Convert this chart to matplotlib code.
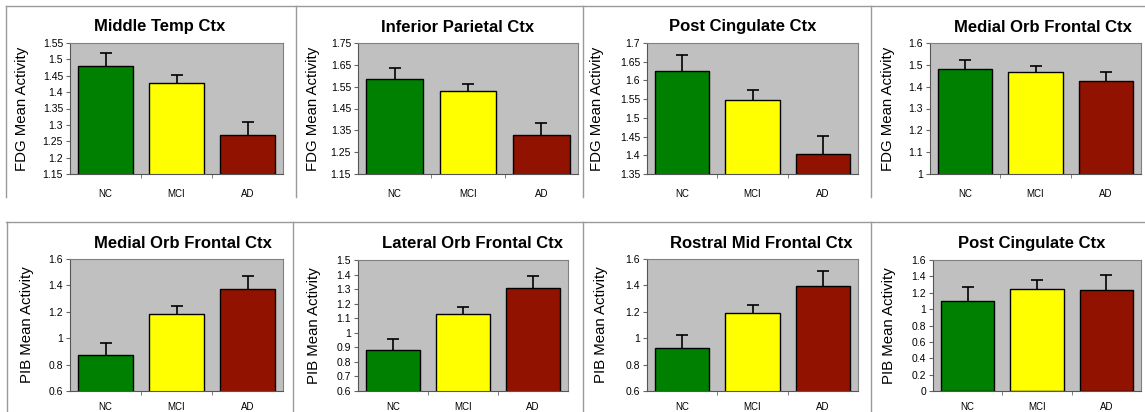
import matplotlib
matplotlib.use('Agg')
import matplotlib.pyplot as plt
import numpy as np
from matplotlib.lines import Line2D
from matplotlib.ticker import FormatStrFormatter

plt.rcParams['font.family'] = ['Liberation Sans', 'DejaVu Sans']

groups = ['NC', 'MCI', 'AD']
bar_colors = ['#008000', '#FFFF00', '#921200']

# FDG (top row)
titles_fdg = ['Middle Temp Ctx', 'Inferior Parietal Ctx', 'Post Cingulate Ctx', 'Medial Orb Frontal Ctx']
fdg_means = [
    [1.480, 1.428, 1.270],
    [1.585, 1.530, 1.329],
    [1.625, 1.547, 1.404],
    [1.480, 1.469, 1.425],
]
fdg_err = [
    [0.038, 0.023, 0.040],
    [0.050, 0.032, 0.054],
    [0.044, 0.028, 0.048],
    [0.044, 0.026, 0.044],
]
fdg_ylims = [(1.15, 1.55), (1.15, 1.75), (1.35, 1.70), (1.0, 1.6)]
fdg_steps = [0.05, 0.1, 0.05, 0.1]

# PIB (bottom row)
titles_pib = ['Medial Orb Frontal Ctx', 'Lateral Orb Frontal Ctx', 'Rostral Mid Frontal Ctx', 'Post Cingulate Ctx']
pib_means = [
    [0.871, 1.187, 1.372],
    [0.882, 1.127, 1.308],
    [0.923, 1.188, 1.399],
    [1.103, 1.250, 1.230],
]
pib_err = [
    [0.091, 0.059, 0.096],
    [0.078, 0.052, 0.084],
    [0.102, 0.063, 0.107],
    [0.171, 0.106, 0.183],
]
pib_ylims = [(0.6, 1.6), (0.6, 1.5), (0.6, 1.6), (0.0, 1.6)]
pib_steps = [0.2, 0.1, 0.2, 0.2]

W, H = 1145, 412
fig = plt.figure(figsize=(W / 100, H / 100), dpi=100)


def px_axes(l, t, r, b):
    return fig.add_axes([l / W, 1 - b / H, (r - l) / W, (b - t) / H])


def draw_panel(ax, means, errs, ylim, step, ylabel, label_x, xpad):
    x = np.arange(len(groups))
    ax.set_facecolor('#C0C0C0')
    # symmetric error bars drawn under the bars, so only the upper half shows
    ax.errorbar(x, means, yerr=errs, fmt='none', ecolor='black',
                elinewidth=1.2, capsize=4, capthick=1.2, zorder=1)
    ax.bar(x, means, width=0.77, color=bar_colors, edgecolor='black', linewidth=1, zorder=2)
    ax.set_xlim(-0.5, 2.5)
    ax.set_ylim(*ylim)
    ax.set_yticks(np.arange(ylim[0], ylim[1] + step / 2, step))
    ax.yaxis.set_major_formatter(FormatStrFormatter('%g'))
    ax.set_xticks(x)
    ax.set_xticklabels(groups)
    ax.set_xticks([0.5, 1.5], minor=True)
    ax.tick_params(axis='x', which='major', length=0, pad=xpad, labelsize=7)
    ax.tick_params(axis='x', which='minor', length=3, direction='out', color='#666666')
    ax.tick_params(axis='y', length=3, direction='out', color='#666666', labelsize=7.5, pad=2)
    for s in ['top', 'right']:
        ax.spines[s].set_color('#808080')
    ax.spines['left'].set_color('#555555')
    ax.spines['bottom'].set_color('#555555')
    ax.set_ylabel(ylabel, fontsize=10.8, va='center')
    l, r = ax.get_position().x0 * W, ax.get_position().x1 * W
    ax.yaxis.set_label_coords((label_x - l) / (r - l), 0.5)


top_boxes = [(70, 43, 283, 174), (358, 43, 578, 174), (647, 43, 858, 174), (930, 43, 1141, 174)]
top_title_x = [160, 458, 743, 1043]
top_label_x = [22, 313, 597, 888]
for i in range(4):
    ax = px_axes(*top_boxes[i])
    draw_panel(ax, fdg_means[i], fdg_err[i], fdg_ylims[i], fdg_steps[i],
               'FDG Mean Activity', top_label_x[i], 11)
    fig.text(top_title_x[i] / W, 1 - 27 / H, titles_fdg[i], ha='center', va='center',
             fontsize=12, fontweight='bold')

bot_boxes = [(70, 259, 283, 391), (358, 260, 568, 391), (647, 259, 858, 391), (933, 260, 1141, 391)]
bot_title_x = [183, 472, 761, 1032]
bot_label_x = [27, 314, 601, 889]
for i in range(4):
    ax = px_axes(*bot_boxes[i])
    draw_panel(ax, pib_means[i], pib_err[i], pib_ylims[i], pib_steps[i],
               'PIB Mean Activity', bot_label_x[i], 8)
    fig.text(bot_title_x[i] / W, 1 - 244 / H, titles_pib[i], ha='center', va='center',
             fontsize=12, fontweight='bold')


def sep(x0, y0, x1, y1):
    fig.add_artist(Line2D([x0 / W, x1 / W], [1 - y0 / H, 1 - y1 / H],
                          transform=fig.transFigure, color='#9A9A9A', lw=1))


# panel borders
sep(6, 6, W, 6)
for xv in [6, 296, 583, 871]:
    sep(xv, 6, xv, 197)
sep(6, 222, W, 222)
for xv in [7, 293, 583, 871]:
    sep(xv, 222, xv, H)

fig.savefig('out.png', dpi=100, facecolor='white')
